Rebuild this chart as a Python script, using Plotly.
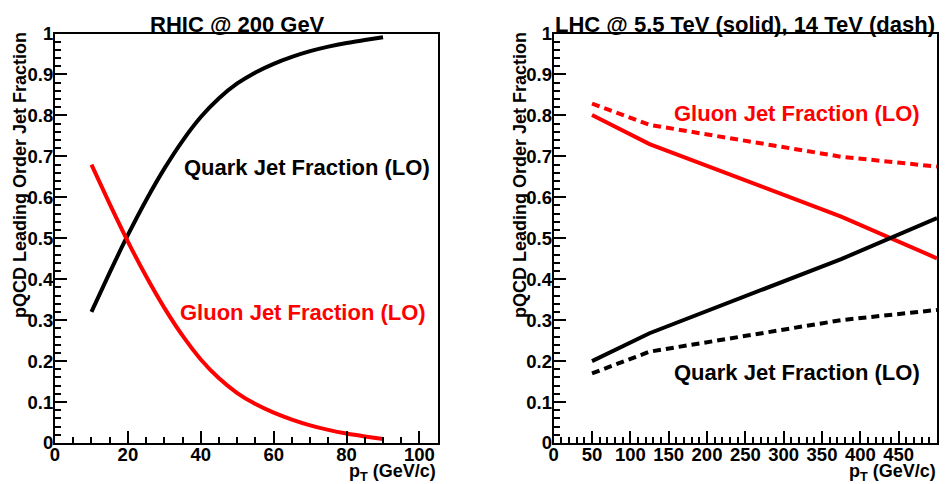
import plotly.graph_objects as go

# ---- RHIC @ 200 GeV : LO quark / gluon jet fractions vs pT ----
rhic_pt = [10, 15, 20, 25, 30, 35, 40, 45, 50, 55, 60, 65, 70, 75, 80, 85, 90]
rhic_quark = [0.320, 0.416, 0.508, 0.593, 0.670, 0.738, 0.796, 0.842, 0.878,
              0.905, 0.926, 0.943, 0.957, 0.968, 0.977, 0.984, 0.991]
rhic_gluon = [0.680, 0.584, 0.492, 0.407, 0.330, 0.262, 0.204, 0.158, 0.122,
              0.095, 0.074, 0.057, 0.043, 0.032, 0.023, 0.016, 0.010]

# ---- LHC : 5.5 TeV (solid) and 14 TeV (dashed) ----
lhc_pt = [50, 125, 375, 500]
lhc55_quark = [0.200, 0.268, 0.449, 0.549]
lhc55_gluon = [0.801, 0.730, 0.553, 0.451]
lhc14_quark = [0.170, 0.223, 0.300, 0.325]
lhc14_gluon = [0.829, 0.777, 0.699, 0.675]

W, H = 952, 484
FONT = "Liberation Sans"
RED = "#ff0000"
BLACK = "#000000"


def px(x):
    return x / W


def py(y):
    return 1 - y / H


fig = go.Figure()

# left pad curves
fig.add_trace(go.Scatter(x=rhic_pt, y=rhic_quark, mode="lines",
                         line=dict(color=BLACK, width=4, shape="spline", smoothing=0.6),
                         xaxis="x", yaxis="y", showlegend=False))
fig.add_trace(go.Scatter(x=rhic_pt, y=rhic_gluon, mode="lines",
                         line=dict(color=RED, width=4, shape="spline", smoothing=0.6),
                         xaxis="x", yaxis="y", showlegend=False))

# right pad curves
fig.add_trace(go.Scatter(x=lhc_pt, y=lhc55_gluon, mode="lines",
                         line=dict(color=RED, width=4),
                         xaxis="x2", yaxis="y2", showlegend=False))
fig.add_trace(go.Scatter(x=lhc_pt, y=lhc14_gluon, mode="lines",
                         line=dict(color=RED, width=4, dash="8px,5px"),
                         xaxis="x2", yaxis="y2", showlegend=False))
fig.add_trace(go.Scatter(x=lhc_pt, y=lhc55_quark, mode="lines",
                         line=dict(color=BLACK, width=4),
                         xaxis="x2", yaxis="y2", showlegend=False))
fig.add_trace(go.Scatter(x=lhc_pt, y=lhc14_quark, mode="lines",
                         line=dict(color=BLACK, width=4, dash="8px,5px"),
                         xaxis="x2", yaxis="y2", showlegend=False))

tickfont = dict(family=FONT, size=18.5, color=BLACK, weight="bold")


def xaxis(domain, rng, dtick, minor_dtick):
    return dict(domain=domain, range=rng, dtick=dtick, tick0=0, automargin=False,
                showgrid=False, zeroline=False,
                showline=True, linecolor=BLACK, linewidth=2, mirror=True,
                ticks="inside", ticklen=12, tickwidth=1.5, tickcolor=BLACK,
                ticklabelstandoff=-6,
                minor=dict(ticks="inside", ticklen=6, tickwidth=1.5,
                           tickcolor=BLACK, dtick=minor_dtick, showgrid=False),
                tickfont=tickfont, fixedrange=True)


def yaxis(domain, anchor):
    return dict(domain=domain, range=[0, 1], dtick=0.1, tick0=0, anchor=anchor,
                automargin=False, showgrid=False, zeroline=False,
                showline=True, linecolor=BLACK, linewidth=2, mirror=True,
                ticks="inside", ticklen=12, tickwidth=1.5, tickcolor=BLACK,
                ticklabelstandoff=-4,
                minor=dict(ticks="inside", ticklen=6, tickwidth=1.5,
                           tickcolor=BLACK, dtick=0.02, showgrid=False),
                tickfont=tickfont, fixedrange=True)


ydom = [py(443), py(33.5)]
fig.update_layout(
    template="none",
    width=W, height=H,
    margin=dict(l=0, r=0, t=0, b=0, autoexpand=False),
    paper_bgcolor="white", plot_bgcolor="white",
    xaxis=dict(xaxis([px(55), px(437.7)], [0, 105], 20, 5), anchor="y"),
    yaxis=yaxis(ydom, "x"),
    xaxis2=dict(xaxis([px(553.7), px(937)], [0, 500], 50, 10), anchor="y2"),
    yaxis2=yaxis(ydom, "x2"),
)

labfont = dict(family=FONT, size=22, weight="bold")
axfont = dict(family=FONT, size=18, color=BLACK, weight="bold")

annotations = [
    # pad titles
    dict(text="RHIC @ 200 GeV", x=px(237), y=py(24), xanchor="center", yanchor="middle",
         font=dict(labfont, color=BLACK)),
    dict(text="LHC @ 5.5 TeV (solid), 14 TeV (dash)", x=px(744.5), y=py(24),
         xanchor="center", yanchor="middle", font=dict(labfont, color=BLACK)),
    # curve labels
    dict(text="Quark Jet Fraction (LO)", x=px(182), y=py(167), xanchor="left",
         yanchor="middle", font=dict(labfont, color=BLACK)),
    dict(text="Gluon Jet Fraction (LO)", x=px(178), y=py(312), xanchor="left",
         yanchor="middle", font=dict(labfont, color=RED)),
    dict(text="Gluon Jet Fraction (LO)", x=px(672), y=py(113), xanchor="left",
         yanchor="middle", font=dict(labfont, color=RED)),
    dict(text="Quark Jet Fraction (LO)", x=px(672), y=py(372), xanchor="left",
         yanchor="middle", font=dict(labfont, color=BLACK)),
]

# axis titles for both pads
for x_left, x_right in [(20, 437), (520, 937)]:
    annotations.append(dict(text="pQCD Leading Order Jet Fraction", textangle=-90,
                            x=px(x_left), y=py(30), xanchor="center", yanchor="top",
                            font=axfont))
    annotations.append(dict(text="p<sub>T</sub> (GeV/c)", x=px(x_right), y=py(472.5),
                            xanchor="right", yanchor="middle", borderpad=0,
                            font=axfont))

for a in annotations:
    a.update(xref="paper", yref="paper", showarrow=False)
fig.update_layout(annotations=annotations)

fig.write_html("out.html")
